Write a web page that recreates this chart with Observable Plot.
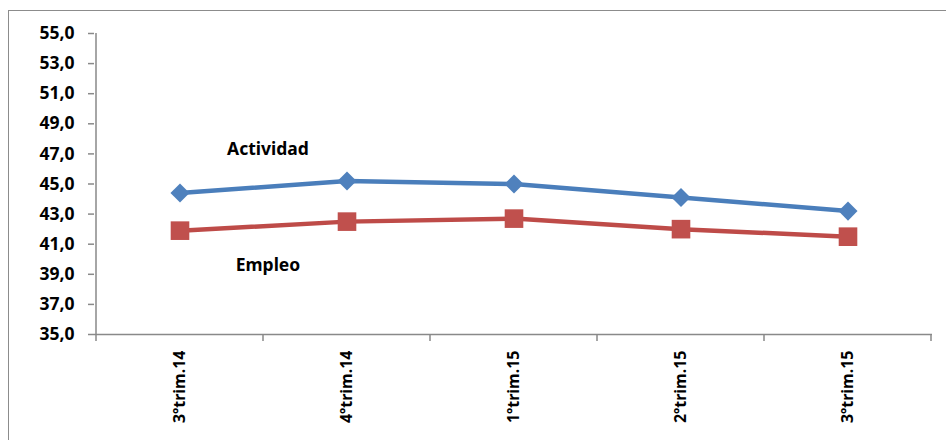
<!DOCTYPE html>
<html><head><meta charset="utf-8">
<script src="https://cdn.jsdelivr.net/npm/d3@7"></script>
<script src="https://cdn.jsdelivr.net/npm/@observablehq/plot@0.6"></script>
<style>
html,body{margin:0;padding:0;background:#fff;overflow:hidden;width:946px;height:440px}
#frame{position:absolute;left:8px;top:10px;width:1000px;height:1000px;border-left:1.5px solid #8c8c8c;border-top:1.5px solid #8c8c8c}
#chart{position:absolute;left:0;top:0}
</style></head><body>
<div id="frame"></div><div id="chart"></div>
<script>
const categories = ["3ºtrim.14","4ºtrim.14","1ºtrim.15","2ºtrim.15","3ºtrim.15"];
const actividad = [44.4, 45.2, 45.0, 44.1, 43.2];
const empleo = [41.9, 42.5, 42.7, 42.0, 41.5];
const yTicks = [35, 37, 39, 41, 43, 45, 47, 49, 51, 53, 55];
const seriesNames = ["Actividad", "Empleo"];
const seriesLabelY = [47.3, 39.6];

const blue = "#4A7EBB", red = "#BE4B48", gray = "#898989";
const act = categories.map((c, i) => ({cat: c, value: actividad[i]}));
const emp = categories.map((c, i) => ({cat: c, value: empleo[i]}));
const fmt = d => d.toFixed(1).replace(".", ",");

const chart = Plot.plot({
  width: 946, height: 440,
  marginLeft: 94, marginRight: 14, marginTop: 33, marginBottom: 106,
  style: {fontFamily: "'Noto Sans', 'Open Sans', sans-serif", fontWeight: "bold", fontSize: "17px", color: "#000", background: "transparent"},
  x: {type: "band", domain: categories, padding: 0},
  y: {domain: [35, 55]},
  marks: [
    Plot.ruleY([35], {stroke: gray, strokeWidth: 1.5}),
    Plot.axisY(yTicks, {tickSize: 6, tickPadding: 14, tickFormat: fmt, label: null, stroke: gray, fill: "#000", fontSize: 17.5, fontWeight: "bold"}),
    Plot.axisX({tickSize: 0, tickPadding: 16, tickRotate: -90, label: null, fill: "#000", fontSize: 16, fontWeight: "bold"}),
    Plot.line(act, {x: "cat", y: "value", stroke: blue, strokeWidth: 4.5}),
    Plot.line(emp, {x: "cat", y: "value", stroke: red, strokeWidth: 4.5}),
    Plot.dot(act, {x: "cat", y: "value", symbol: "diamond2", r: 8.6, fill: "#4F81BD", stroke: null}),
    Plot.dot(emp, {x: "cat", y: "value", symbol: "square", r: 10.5, fill: "#C0504D", stroke: null}),
    Plot.text(seriesNames, {x: () => categories[0], y: (d, i) => seriesLabelY[i], text: d => d, dx: 88, fontSize: 17.5, fontWeight: "bold", fill: "#000"})
  ]
});
document.getElementById("chart").appendChild(chart);

// y axis line and category boundary ticks, placed via Plot's scales
const xs = chart.scale("x"), ys = chart.scale("y");
const svg = d3.select(chart);
const bw = xs.bandwidth;
const starts = categories.map(c => xs.apply(c));
const bounds = starts.concat([starts[starts.length - 1] + bw]);
const yb = ys.apply(35), yt = ys.apply(55);
const g = svg.append("g").attr("stroke", gray).attr("stroke-width", 1.5);
g.append("line").attr("x1", starts[0]).attr("x2", starts[0]).attr("y1", yt).attr("y2", yb);
g.selectAll("line.bt").data(bounds).join("line").attr("class", "bt")
  .attr("x1", d => d).attr("x2", d => d).attr("y1", yb).attr("y2", yb + 7);
svg.selectAll("g[aria-label='y-axis tick'] path").attr("stroke-width", 1.5);
</script>
</body></html>
